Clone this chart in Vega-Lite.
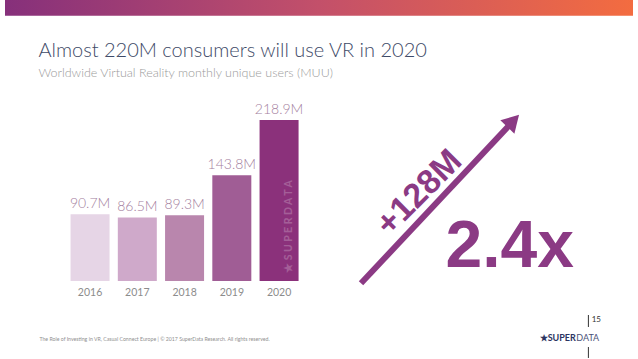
{
  "$schema": "https://vega.github.io/schema/vega-lite/v6.json",
  "width": 638,
  "height": 359,
  "padding": 0,
  "autosize": {"type": "none"},
  "background": "#ffffff",
  "config": {"view": {"stroke": null}},
  "layer": [
    {
      "data": {"values": [{"x": 2014.2, "x2": 2027.49, "y": 382, "y2": 360.5}]},
      "mark": {"type": "rect", "fill": {"gradient": "linear", "x1": 0, "x2": 1, "y1": 0, "y2": 0, "stops": [{"offset": 0, "color": "#86307b"}, {"offset": 0.5, "color": "#c3506a"}, {"offset": 1, "color": "#f36c40"}]}},
      "encoding": {
        "x": {"field": "x", "type": "quantitative", "scale": {"domain": [2014.2, 2027.49], "nice": false, "zero": false}, "axis": null},
        "x2": {"field": "x2"},
        "y": {"field": "y", "type": "quantitative", "scale": {"domain": [-106, 382], "nice": false, "zero": false}, "axis": null},
        "y2": {"field": "y2"}
      }
    },
    {
      "data": {"values": [
        {"x": 2014.908, "y": 305, "t": "Almost 220M consumers will use VR in 2020"}
      ]},
      "mark": {"type": "text", "align": "left", "baseline": "alphabetic", "font": "Lato", "fontSize": 20, "fontWeight": 300, "color": "#3e4a67"},
      "encoding": {
        "x": {"field": "x", "type": "quantitative", "scale": {"domain": [2014.2, 2027.49], "nice": false, "zero": false}, "axis": null},
        "y": {"field": "y", "type": "quantitative", "scale": {"domain": [-106, 382], "nice": false, "zero": false}, "axis": null},
        "text": {"field": "t"}
      }
    },
    {
      "data": {"values": [
        {"x": 2014.908, "y": 278, "t": "Worldwide Virtual Reality monthly unique users (MUU)"}
      ]},
      "mark": {"type": "text", "align": "left", "baseline": "alphabetic", "font": "Lato", "fontSize": 12.5, "fontWeight": 300, "color": "#9a9a9a"},
      "encoding": {
        "x": {"field": "x", "type": "quantitative", "scale": {"domain": [2014.2, 2027.49], "nice": false, "zero": false}, "axis": null},
        "y": {"field": "y", "type": "quantitative", "scale": {"domain": [-106, 382], "nice": false, "zero": false}, "axis": null},
        "text": {"field": "t"}
      }
    },
    {
      "data": {"name": "bars", "values": [
        {"year": 2016, "value": 90.7, "label": "90.7M"},
        {"year": 2017, "value": 86.5, "label": "86.5M"},
        {"year": 2018, "value": 89.3, "label": "89.3M"},
        {"year": 2019, "value": 143.8, "label": "143.8M"},
        {"year": 2020, "value": 218.9, "label": "218.9M"}
      ]},
      "layer": [
        {
          "mark": {"type": "bar", "width": 39},
          "encoding": {
            "x": {"field": "year", "type": "quantitative", "scale": {"domain": [2014.2, 2027.49], "nice": false, "zero": false}, "axis": null},
            "y": {"field": "value", "type": "quantitative", "stack": null, "scale": {"domain": [-106, 382], "nice": false, "zero": false}, "axis": null},
            "y2": {"datum": 0},
            "color": {"field": "year", "type": "nominal", "legend": null, "scale": {"domain": [2016, 2017, 2018, 2019, 2020], "range": ["#e6d5e6", "#cfa9ca", "#b986ad", "#a05d95", "#8b317b"]}}
          }
        },
        {
          "mark": {"type": "text", "align": "center", "baseline": "bottom", "dy": -3, "font": "Lato", "fontSize": 14, "fontWeight": 300, "color": "#a4809e"},
          "encoding": {
            "x": {"field": "year", "type": "quantitative", "scale": {"domain": [2014.2, 2027.49], "nice": false, "zero": false}, "axis": null},
            "y": {"field": "value", "type": "quantitative", "scale": {"domain": [-106, 382], "nice": false, "zero": false}, "axis": null},
            "text": {"field": "label"}
          }
        },
        {
          "mark": {"type": "text", "align": "center", "baseline": "middle", "dy": 12, "font": "Lato", "fontSize": 10.5, "color": "#8c8c8c"},
          "encoding": {
            "x": {"field": "year", "type": "quantitative", "scale": {"domain": [2014.2, 2027.49], "nice": false, "zero": false}, "axis": null},
            "y": {"datum": 0, "type": "quantitative", "scale": {"domain": [-106, 382], "nice": false, "zero": false}, "axis": null},
            "text": {"field": "year", "type": "nominal"}
          }
        }
      ]
    },
    {
      "data": {"values": [{"x": 2020.2, "y": 74, "t": "★ S U P E R D A T A"}]},
      "mark": {"type": "text", "angle": -90, "align": "center", "baseline": "middle", "font": "Lato", "fontSize": 10.5, "fontWeight": "bold", "color": "#ffffff", "opacity": 0.22},
      "encoding": {
        "x": {"field": "x", "type": "quantitative", "scale": {"domain": [2014.2, 2027.49], "nice": false, "zero": false}, "axis": null},
        "y": {"field": "y", "type": "quantitative", "scale": {"domain": [-106, 382], "nice": false, "zero": false}, "axis": null},
        "text": {"field": "t"}
      }
    },
    {
      "data": {"values": [{"x": 2021.734, "y": -3.1, "x2": 2024.907, "y2": 214.1}]},
      "mark": {"type": "rule", "strokeWidth": 6, "color": "#8b3a84", "strokeCap": "butt"},
      "encoding": {
        "x": {"field": "x", "type": "quantitative", "scale": {"domain": [2014.2, 2027.49], "nice": false, "zero": false}, "axis": null},
        "x2": {"field": "x2"},
        "y": {"field": "y", "type": "quantitative", "scale": {"domain": [-106, 382], "nice": false, "zero": false}, "axis": null},
        "y2": {"field": "y2"}
      }
    },
    {
      "data": {"values": [{"x": 2024.955, "y": 217.66}]},
      "mark": {"type": "point", "shape": "triangle-up", "filled": true, "size": 380, "angle": 44, "color": "#8b3a84", "opacity": 1},
      "encoding": {
        "x": {"field": "x", "type": "quantitative", "scale": {"domain": [2014.2, 2027.49], "nice": false, "zero": false}, "axis": null},
        "y": {"field": "y", "type": "quantitative", "scale": {"domain": [-106, 382], "nice": false, "zero": false}, "axis": null}
      }
    },
    {
      "data": {"values": [{"x": 2022.97, "y": 119.65, "t": "+128M"}]},
      "mark": {"type": "text", "angle": -45, "align": "center", "baseline": "middle", "font": "Liberation Sans", "fontSize": 34, "fontWeight": "bold", "color": "#8b3a84"},
      "encoding": {
        "x": {"field": "x", "type": "quantitative", "scale": {"domain": [2014.2, 2027.49], "nice": false, "zero": false}, "axis": null},
        "y": {"field": "y", "type": "quantitative", "scale": {"domain": [-106, 382], "nice": false, "zero": false}, "axis": null},
        "text": {"field": "t"}
      }
    },
    {
      "data": {"values": [{"x": 2024.88, "y": 19.1, "t": "2.4x"}]},
      "mark": {"type": "text", "align": "center", "baseline": "alphabetic", "font": "Liberation Sans", "fontSize": 66, "fontWeight": "bold", "color": "#8b3a84"},
      "encoding": {
        "x": {"field": "x", "type": "quantitative", "scale": {"domain": [2014.2, 2027.49], "nice": false, "zero": false}, "axis": null},
        "y": {"field": "y", "type": "quantitative", "scale": {"domain": [-106, 382], "nice": false, "zero": false}, "axis": null},
        "text": {"field": "t"}
      }
    },
    {
      "data": {"values": [{"x": 2014.929, "y": -78.8, "t": "The Role of Investing in VR, Casual Connect Europe  |  © 2017 SuperData Research. All rights reserved."}]},
      "mark": {"type": "text", "align": "left", "baseline": "middle", "font": "Lato", "fontSize": 5.2, "color": "#8f8f8f"},
      "encoding": {
        "x": {"field": "x", "type": "quantitative", "scale": {"domain": [2014.2, 2027.49], "nice": false, "zero": false}, "axis": null},
        "y": {"field": "y", "type": "quantitative", "scale": {"domain": [-106, 382], "nice": false, "zero": false}, "axis": null},
        "text": {"field": "t"}
      }
    },
    {
      "data": {"values": [{"x": 2026.28, "y": -77.0, "t": "★SUPER"}]},
      "mark": {"type": "text", "align": "right", "baseline": "middle", "font": "Lato", "fontSize": 9, "fontWeight": "bold", "color": "#2b3461"},
      "encoding": {
        "x": {"field": "x", "type": "quantitative", "scale": {"domain": [2014.2, 2027.49], "nice": false, "zero": false}, "axis": null},
        "y": {"field": "y", "type": "quantitative", "scale": {"domain": [-106, 382], "nice": false, "zero": false}, "axis": null},
        "text": {"field": "t"}
      }
    },
    {
      "data": {"values": [{"x": 2026.29, "y": -77.0, "t": "DATA"}]},
      "mark": {"type": "text", "align": "left", "baseline": "middle", "font": "Lato", "fontSize": 9, "color": "#4a5278"},
      "encoding": {
        "x": {"field": "x", "type": "quantitative", "scale": {"domain": [2014.2, 2027.49], "nice": false, "zero": false}, "axis": null},
        "y": {"field": "y", "type": "quantitative", "scale": {"domain": [-106, 382], "nice": false, "zero": false}, "axis": null},
        "text": {"field": "t"}
      }
    },
    {
      "data": {"values": [{"x": 2026.615, "y": -53.0, "t": "15"}]},
      "mark": {"type": "text", "align": "left", "baseline": "middle", "font": "Lato", "fontSize": 8, "color": "#333333"},
      "encoding": {
        "x": {"field": "x", "type": "quantitative", "scale": {"domain": [2014.2, 2027.49], "nice": false, "zero": false}, "axis": null},
        "y": {"field": "y", "type": "quantitative", "scale": {"domain": [-106, 382], "nice": false, "zero": false}, "axis": null},
        "text": {"field": "t"}
      }
    },
    {
      "data": {"values": [{"x": 2026.546, "y": -46.2, "y2": -62.5}, {"x": 2026.546, "y": -89.7, "y2": -104.6}]},
      "mark": {"type": "rule", "strokeWidth": 1, "color": "#333333"},
      "encoding": {
        "x": {"field": "x", "type": "quantitative", "scale": {"domain": [2014.2, 2027.49], "nice": false, "zero": false}, "axis": null},
        "y": {"field": "y", "type": "quantitative", "scale": {"domain": [-106, 382], "nice": false, "zero": false}, "axis": null},
        "y2": {"field": "y2"}
      }
    }
  ]
}
